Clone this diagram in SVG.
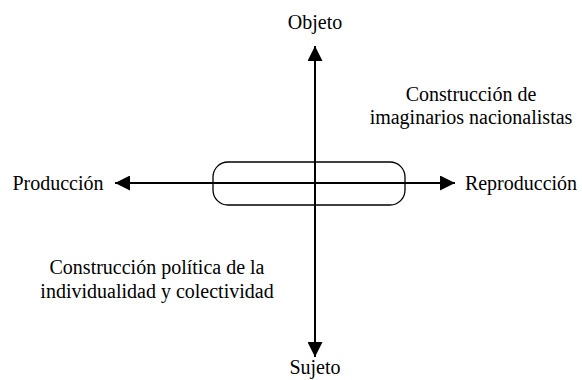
<svg xmlns="http://www.w3.org/2000/svg" width="582" height="380" viewBox="0 0 582 380">
<style>
text{font-family:"Liberation Serif","Times New Roman",serif;font-size:20px;fill:#000;text-anchor:middle}
.ln{stroke:#000;stroke-width:2;fill:none}
</style>
<defs>
<marker id="ah" viewBox="0 0 10 10" refX="10" refY="5" markerWidth="7.5" markerHeight="7.5" markerUnits="strokeWidth" orient="auto">
<path d="M0,0 L10,5 L0,10 Z" fill="#000"/>
</marker>
</defs>
<rect fill="#fff" width="582" height="380"/>
<g id="ellipse-node"><rect x="213" y="162" width="192" height="43" rx="15" ry="15" fill="none" stroke="#000" stroke-width="1.3"/></g>
<g id="connectors">
<line class="ln" x1="315" y1="183" x2="315" y2="46" marker-end="url(#ah)"/>
<line class="ln" x1="315" y1="183" x2="315" y2="357" marker-end="url(#ah)"/>
<line class="ln" x1="315" y1="183" x2="115" y2="183" marker-end="url(#ah)"/>
<line class="ln" x1="315" y1="183" x2="455" y2="183" marker-end="url(#ah)"/>
</g>
<g id="objeto"><text x="315" y="29">Objeto</text></g>
<g id="sujeto"><text x="315" y="374">Sujeto</text></g>
<g id="produccion"><text x="58" y="190">Producción</text></g>
<g id="reproduccion"><text x="521" y="190">Reproducción</text></g>
<g id="imaginarios"><text x="471" y="101">Construcción de</text><text x="471" y="124">imaginarios nacionalistas</text></g>
<g id="politica"><text x="157" y="274">Construcción política de la</text><text x="157" y="298">individualidad y colectividad</text></g>
</svg>
